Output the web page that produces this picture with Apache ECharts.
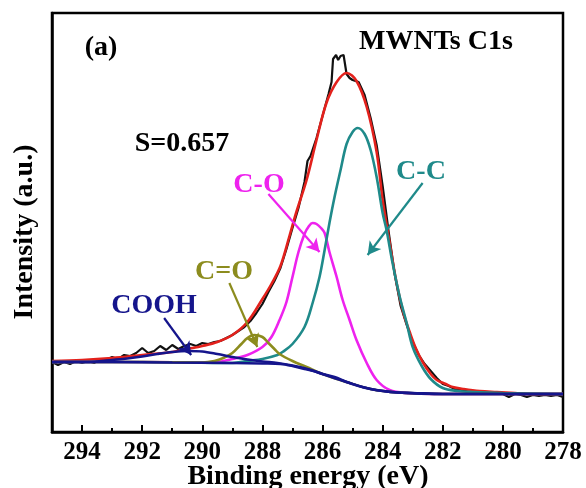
<!DOCTYPE html>
<html>
<head>
<meta charset="utf-8">
<script src="https://cdn.jsdelivr.net/npm/echarts@6/dist/echarts.min.js"></script>
<style>
html,body{margin:0;padding:0;background:#fff;}
#c{width:586px;height:488px;}
</style>
</head>
<body>
<div id="c"></div>
<script>
// Binding energy (eV) and intensity (a.u.)
const measE = [295.0,294.8,294.6,294.4,294.2,294.0,293.8,293.6,293.4,293.2,293.0,292.8,292.6,292.4,292.2,292.0,291.8,291.6,291.4,291.2,291.0,290.8,290.6,290.4,290.2,290.0,289.8,289.6,289.4,289.2,289.0,288.8,288.6,288.4,288.2,288.0,287.8,287.6,287.4,287.2,287.0,286.8,286.6,286.5,286.4,286.2,286.0,285.8,285.7,285.65,285.55,285.48,285.4,285.3,285.25,285.2,285.1,285.0,284.8,284.6,284.4,284.2,284.0,283.8,283.6,283.4,283.2,283.0,282.8,282.6,282.4,282.2,282.0,281.8,281.6,281.4,281.2,281.0,280.8,280.6,280.4,280.2,280.0,279.8,279.6,279.4,279.2,279.0,278.8,278.6,278.4,278.2,278.0];
const measI = [70,67,70,68,71,69,71,69,73,72,75,73,77,76,79,84,79,81,86,82,87,83,86,88,86,89,88,90,91,94,97,101,105,111,119,128,140,151,164,183,204,224,250,271,276,294,316,338,350,373,377,372,376,377,375,358,354,352,350,337,314,287,246,200,158,126,107,90,77,68,61,54,48,46,43,42,41,40,40,39,39,38,38,35,38,37,35,37,36,37,36,37,35];

const fitE = [295.0,294.0,293.0,292.0,291.0,290.5,290.0,289.5,289.0,288.5,288.0,287.7,287.4,287.1,286.87,286.53,286.2,285.87,285.53,285.2,284.87,284.53,284.2,284.0,283.77,283.53,283.3,283.1,282.9,282.67,282.4,282.2,281.9,281.67,281.3,280.77,280.2,279.6,279.0,278.0];
const fitI = [71,72,74,77,80,83,86,90,97,110,133,148,166,196,220,252,292,329,350,359,351,325,280,232,190,148,118,100,84,70,58,52,48,45,43,41,40,39,38,38];

const ccE = [295.0,292.0,289.0,288.5,288.0,287.5,287.33,287.0,286.6,286.33,286.1,285.93,285.77,285.6,285.4,285.2,285.0,284.83,284.6,284.4,284.2,284.0,283.87,283.67,283.43,283.2,283.0,282.7,282.4,282.0,281.5,281.0,280.0,278.0];
const ccI = [70,70,69,71,73,77,80,88,105,129,155,182,209,235,262,288,300,304,298,282,255,219,202,169,135,109,85,66,53,44,41,40,39,38];

const coE = [295.0,292.0,290.0,289.5,289.0,288.5,288.0,287.7,287.43,287.2,287.0,286.8,286.6,286.45,286.33,286.2,286.05,285.93,285.77,285.53,285.33,285.1,284.87,284.53,284.2,283.77,283.2,282.0,280.0,278.0];
const coI = [70,70,69.5,70,73,77,85,95,112,130,155,180,198,206,209,208,204,199,180,155,132,112,92,69,52,42,39,38,38,38];

const c2oE = [295.0,292.0,290.0,289.6,289.3,289.0,288.7,288.5,288.27,288.0,287.8,287.6,287.43,287.0,286.53,286.0,285.2,284.4,283.5,282.0,278.0];
const c2oI = [70,70,69.5,71,74,79,88,94,97,95,89,83,78,71,65,58,50,43,39.5,38,38];

const coohE = [295.0,294.0,293.5,293.0,292.5,292.0,291.5,291.0,290.5,290.0,289.5,289.0,288.5,288.0,287.5,287.0,286.5,286.0,285.2,284.4,283.5,282.0,278.0];
const coohI = [70,70,70.5,72,73.5,75.5,78,80,81,80.5,78,75,72.5,70.5,69,66.5,63,58,50,43,39.5,38,38];

const bgE = [295.0,293.0,291.0,289.0,288.0,287.4,287.0,286.6,286.3,286.0,285.6,285.2,284.8,284.4,284.0,283.5,283.0,282.0,280.0,278.0];
const bgI = [70,70,69.5,69,68.5,68,66,63,61,58,55,50,46,43,41,39.5,39,38,38,38];

const xTicks = [294,292,290,288,286,284,282,280,278];

const pairs = (xs, ys) => xs.map((x, i) => [x, ys[i]]);

const C = {
  black: '#111111', red: '#e3211c', teal: '#1f8a8a', magenta: '#ee22ee',
  olive: '#8c8c1e', navy: '#15158c'
};
const FONT = '"Liberation Serif","Times New Roman",serif';

function fitLine(name, data, color, z) {
  return { name, type: 'line', data, xAxisIndex: 0, yAxisIndex: 0, smooth: 0.35, symbol: 'none',
    lineStyle: { color, width: 2.6 }, z };
}

const chart = echarts.init(document.getElementById('c'), null, { renderer: 'canvas' });
chart.setOption({
  animation: false,
  backgroundColor: '#ffffff',
  grid: { left: 52, right: 23, top: 13, bottom: 56, show: true, borderColor: '#000', borderWidth: 2.5, backgroundColor: 'transparent' },
  xAxis: [
    { type: 'value', min: 278, max: 295, interval: 2, inverse: true, position: 'bottom',
      axisLine: { show: true, onZero: false, lineStyle: { color: '#000', width: 2.5 } },
      axisTick: { show: true, inside: true, length: 7, lineStyle: { color: '#000', width: 2 } },
      axisLabel: { show: true, color: '#000', fontFamily: FONT, fontWeight: 'bold', fontSize: 25, margin: 8,
        formatter: v => (xTicks.indexOf(v) >= 0 ? String(v) : '') },
      splitLine: { show: false } },
    { type: 'value', min: 278, max: 295, interval: 1, inverse: true, position: 'bottom',
      axisLine: { show: false },
      axisTick: { show: true, inside: true, length: 4, lineStyle: { color: '#000', width: 2 } },
      axisLabel: { show: false }, splitLine: { show: false } }
  ],
  yAxis: { type: 'value', min: 0, max: 419, axisLine: { show: true, lineStyle: { color: '#000', width: 2.5 } },
    axisTick: { show: false }, axisLabel: { show: false }, splitLine: { show: false } },
  series: [
    { name: 'data', type: 'line', data: pairs(measE, measI), symbol: 'none', lineStyle: { color: C.black, width: 2.2 }, z: 1 },
    fitLine('envelope', pairs(fitE, fitI), C.red, 2),
    fitLine('C-O', pairs(coE, coI), C.magenta, 3),
    fitLine('C-C', pairs(ccE, ccI), C.teal, 4),
    fitLine('C=O', pairs(c2oE, c2oI), C.olive, 5),
    fitLine('COOH', pairs(coohE, coohI), C.navy, 6),
    fitLine('background', pairs(bgE, bgI), C.navy, 7),
    { name: 'arrows', type: 'line', data: [], z: 8,
      markLine: { silent: true, symbol: ['none', 'arrow'], symbolSize: [11, 13], label: { show: false }, animation: false,
        data: [
          [{ coord: [287.8, 238], lineStyle: { color: C.magenta, width: 2.2, type: 'solid' } }, { coord: [286.1, 180] }],
          [{ coord: [282.67, 249], lineStyle: { color: C.teal, width: 2.2, type: 'solid' } }, { coord: [284.5, 177] }],
          [{ coord: [289.1, 149], lineStyle: { color: C.olive, width: 2.2, type: 'solid' } }, { coord: [288.17, 85] }],
          [{ coord: [291.27, 114], lineStyle: { color: C.navy, width: 2.2, type: 'solid' } }, { coord: [290.37, 77] }]
        ] } }
  ],
  graphic: [
    { type: 'text', x: 101, y: 48, style: { text: '(a)', font: 'bold 28px ' + FONT, fill: '#000', textAlign: 'center', textVerticalAlign: 'middle' } },
    { type: 'text', x: 436, y: 42, style: { text: 'MWNTs C1s', font: 'bold 28px ' + FONT, fill: '#000', textAlign: 'center', textVerticalAlign: 'middle' } },
    { type: 'text', x: 182, y: 144, style: { text: 'S=0.657', font: 'bold 28px ' + FONT, fill: '#000', textAlign: 'center', textVerticalAlign: 'middle' } },
    { type: 'text', x: 259, y: 185, style: { text: 'C-O', font: 'bold 28px ' + FONT, fill: C.magenta, textAlign: 'center', textVerticalAlign: 'middle' } },
    { type: 'text', x: 421, y: 172, style: { text: 'C-C', font: 'bold 28px ' + FONT, fill: C.teal, textAlign: 'center', textVerticalAlign: 'middle' } },
    { type: 'text', x: 224, y: 272, style: { text: 'C=O', font: 'bold 28px ' + FONT, fill: C.olive, textAlign: 'center', textVerticalAlign: 'middle' } },
    { type: 'text', x: 154, y: 306, style: { text: 'COOH', font: 'bold 28px ' + FONT, fill: C.navy, textAlign: 'center', textVerticalAlign: 'middle' } },
    { type: 'text', x: 308, y: 477, style: { text: 'Binding energy (eV)', font: 'bold 28px ' + FONT, fill: '#000', textAlign: 'center', textVerticalAlign: 'middle' } },
    { type: 'text', x: 25, y: 232, rotation: Math.PI / 2, style: { text: 'Intensity (a.u.)', font: 'bold 28px ' + FONT, fill: '#000', textAlign: 'center', textVerticalAlign: 'middle' } }
  ]
});
</script>
</body>
</html>
